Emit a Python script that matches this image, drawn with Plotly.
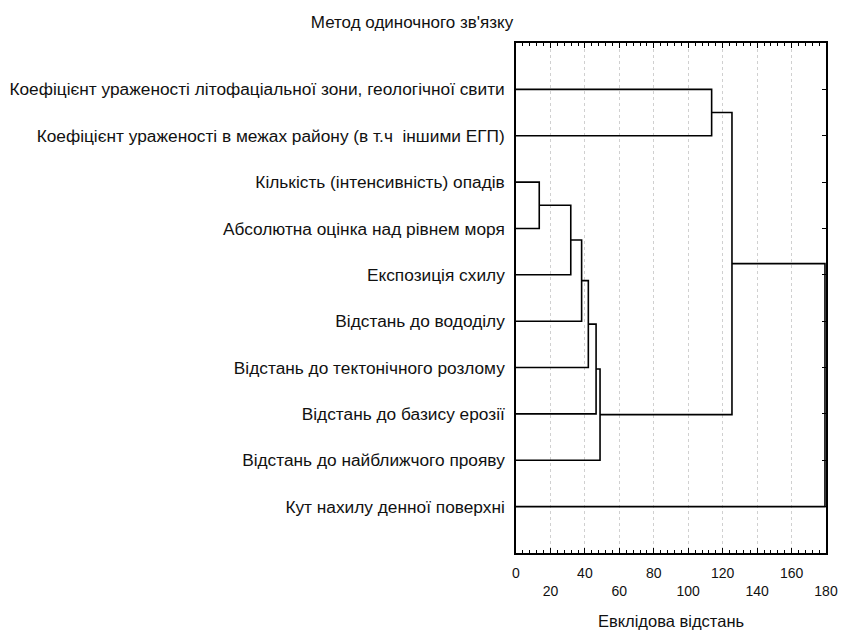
import plotly.graph_objects as go

# Variables (leaves of the dendrogram), top to bottom
labels = [
    "Коефіцієнт ураженості літофаціальної зони, геологічної свити",
    "Коефіцієнт ураженості в межах району (в т.ч  іншими ЕГП)",
    "Кількість (інтенсивність) опадів",
    "Абсолютна оцінка над рівнем моря",
    "Експозиція схилу",
    "Відстань до вододілу",
    "Відстань до тектонічного розлому",
    "Відстань до базису ерозії",
    "Відстань до найближчого прояву",
    "Кут нахилу денної поверхні",
]

# Single-linkage merges: node ids >= len(labels) refer to earlier merges in order
merge_left = [2, 10, 11, 12, 13, 14, 0, 16, 17]
merge_right = [3, 4, 5, 6, 7, 8, 1, 15, 9]
merge_height = [13.5, 31.8, 38.1, 42.0, 46.5, 48.8, 113.6, 125.4, 179.4]

x_ticks = [0, 20, 40, 60, 80, 100, 120, 140, 160, 180]

FONT = "Liberation Sans, Arial, sans-serif"

# positions of every node: (distance, row)
n = len(labels)
node_x = {i: 0.0 for i in range(n)}
node_y = {i: float(i) for i in range(n)}

xs, ys = [], []
for k, (a, b, h) in enumerate(zip(merge_left, merge_right, merge_height)):
    xs += [node_x[a], h, h, node_x[b], None]
    ys += [node_y[a], node_y[a], node_y[b], node_y[b], None]
    node_x[n + k] = h
    node_y[n + k] = (node_y[a] + node_y[b]) / 2

fig = go.Figure()
fig.add_trace(go.Scatter(
    x=xs, y=ys, mode="lines",
    line=dict(color="black", width=1.6),
    hoverinfo="skip", showlegend=False,
))

# alternate tick labels drop to a second row
tick_text = [str(v) if i % 2 == 0 else "<br>" + str(v) for i, v in enumerate(x_ticks)]

fig.update_layout(
    width=844, height=633,
    margin=dict(l=516, r=18, t=43, b=80, autoexpand=False),
    paper_bgcolor="white", plot_bgcolor="white",
    font=dict(family=FONT, size=17, color="#111"),
    title=dict(text="Метод одиночного зв'язку", x=412 / 844, xanchor="center",
               y=1 - 22 / 633, yanchor="middle",
               font=dict(family=FONT, size=17, color="#111")),
    xaxis=dict(
        range=[0, 180], tickvals=x_ticks, ticktext=tick_text,
        showline=True, linecolor="black", linewidth=1.5, mirror="allticks",
        ticks="inside", ticklen=5, tickcolor="black",
        minor=dict(dtick=4, ticks="inside", ticklen=3, tickcolor="black", showgrid=False),
        showgrid=True, gridcolor="#d0d0d0", griddash="dot", gridwidth=1,
        zeroline=False, ticklabelstandoff=6, automargin=False,
        tickfont=dict(family=FONT, size=14, color="#111"),
        title=dict(text="Евклідова відстань", standoff=18,
                   font=dict(family=FONT, size=16.5, color="#111")),
    ),
    yaxis=dict(
        range=[10, -1], tickvals=list(range(n)), ticktext=labels,
        showline=True, linecolor="black", linewidth=1.5, mirror="allticks",
        ticks="inside", ticklen=4, tickcolor="black",
        showgrid=False, zeroline=False, ticklabelstandoff=6, automargin=False,
        tickfont=dict(family=FONT, size=17.3, color="#111"),
    ),
)

fig.write_html("out.html")
